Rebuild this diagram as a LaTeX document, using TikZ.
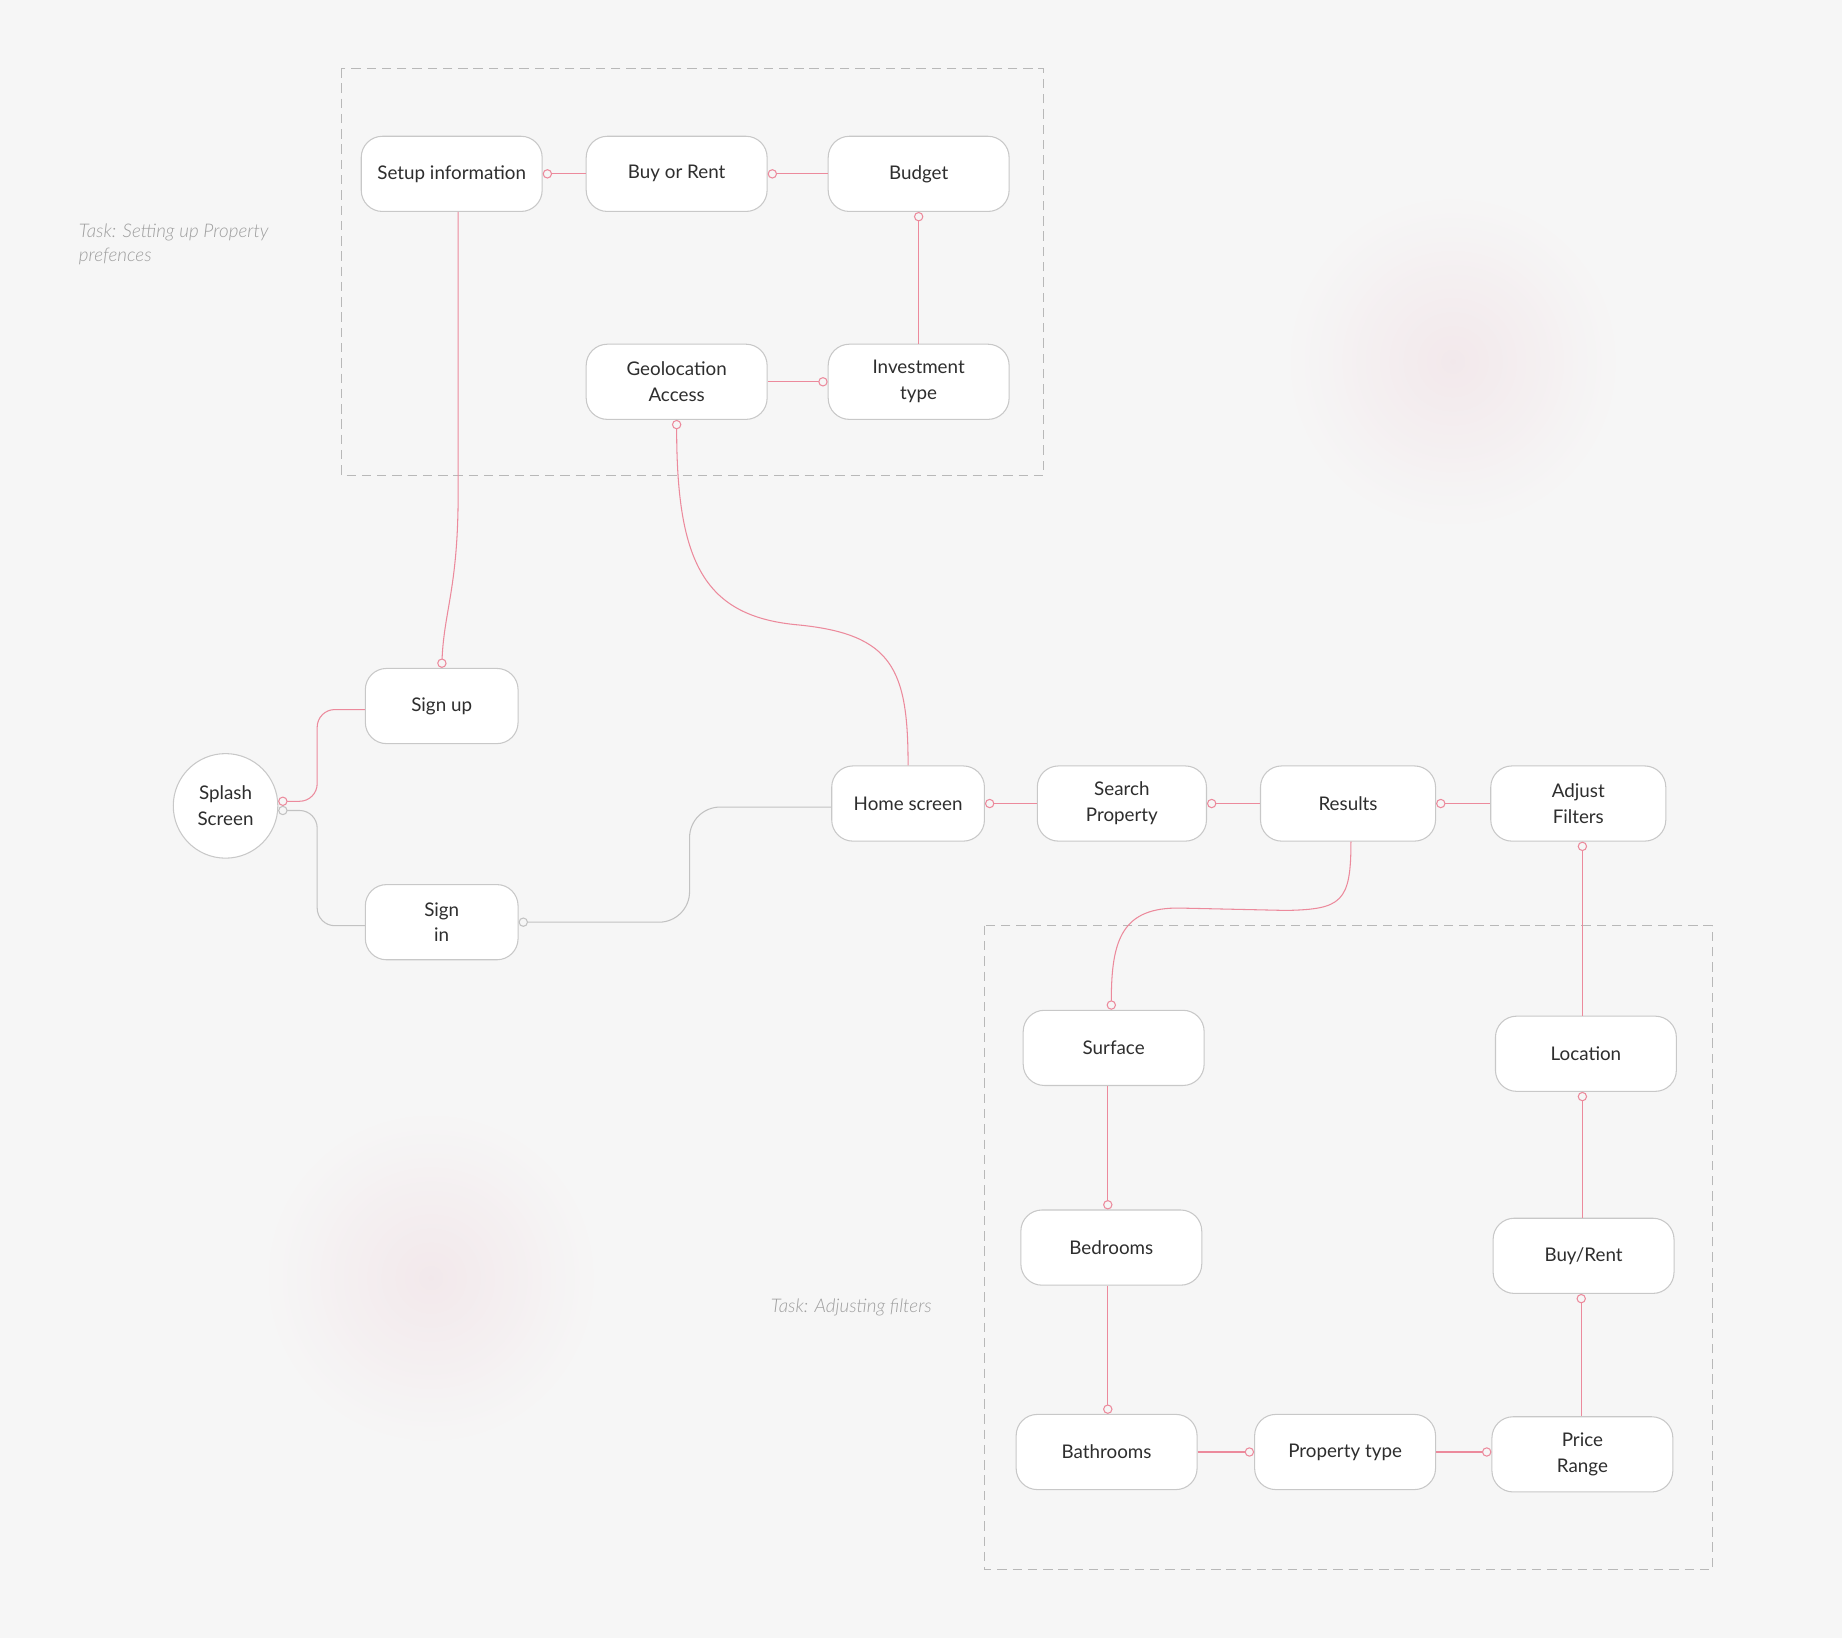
\documentclass[tikz,border=0pt]{standalone}
\usepackage{fontspec}
\setmainfont{Lato}
\IfFontExistsTF{Lato Light}{\newfontfamily\lightfont{Lato Light}}{\newfontfamily\lightfont{Lato}}
\usetikzlibrary{arrows.meta}
\definecolor{bg}{HTML}{F6F6F6}
\definecolor{pk}{HTML}{EC8A9C}
\definecolor{lgray}{HTML}{C2C2C2}
\definecolor{bordergray}{HTML}{C8C8C8}
\definecolor{dashgray}{HTML}{B8B8B8}
\definecolor{txt}{HTML}{2E2E2E}
\definecolor{taskgray}{HTML}{9E9E9E}
\definecolor{blobpink}{HTML}{F2E8EB}
\begin{document}
\begin{tikzpicture}[x=1pt,y=-1pt,
  box/.style={draw=bordergray, line width=0.9pt, fill=white, rounded corners=18pt,
    minimum height=64pt, minimum width=154pt, align=center, text=txt,
    font=\fontsize{16pt}{22pt}\selectfont, inner sep=0pt},
  roundnode/.style={draw=bordergray, line width=0.9pt, fill=white, circle,
    minimum size=89pt, align=center, text=txt,
    font=\fontsize{16pt}{22pt}\selectfont, inner sep=0pt},
  pkline/.style={draw=pk, line width=0.9pt},
  grline/.style={draw=lgray, line width=0.9pt},
  dot/.tip={Circle[open, length=8pt, width=8pt, fill=bg, line width=0.9pt]},
  dashbox/.style={draw=dashgray, line width=0.8pt, dash pattern=on 8pt off 5pt},
  tasklabel/.style={text=taskgray, font=\fontsize{16pt}{21pt}\selectfont\lightfont\itshape,
    align=left, inner sep=0pt, anchor=north west}
]
% background
\fill[bg] (0,0) rectangle (1568,1394);
\useasboundingbox (0,0) rectangle (1568,1394);
% soft blobs
\coordinate (blobA) at (1237,308);
\coordinate (blobB) at (367,1088);
\foreach \r in {150,146,...,2} {
  \pgfmathtruncatemacro{\p}{100*(1-\r/150)^1.1}
  \fill[blobpink!\p!bg] (blobA) circle (\r pt);
  \fill[blobpink!\p!bg] (blobB) circle (\r pt);
}

% dashed task boxes
\draw[dashbox] (291,58) rectangle (888,405);
\draw[dashbox] (838,788) rectangle (1458,1336);

% task labels
\node[tasklabel] (task1) at (67,190) {Task: Setting up Property\\prefences};
\node[tasklabel] (task2) at (656,1105) {Task: Adjusting filters};

% top group
\node[box] (setup) at (384.5,148) {Setup information};
\node[box] (buyorrent) at (576,148) {Buy or Rent};
\node[box] (budget) at (782,148) {Budget};
\node[box] (geo) at (576,325) {Geolocation\\Access};
\node[box] (invest) at (782,325) {Investment\\type};

% left group
\node[roundnode] (splash) at (192,686) {Splash\\Screen};
\node[box, minimum width=130pt] (signup) at (376,601) {Sign up};
\node[box, minimum width=130pt] (signin) at (376,785) {Sign\\in};

% middle row
\node[box, minimum width=130pt] (home) at (773,684) {Home screen};
\node[box, minimum width=144pt] (search) at (955,684) {Search\\Property};
\node[box, minimum width=149pt] (results) at (1147.5,684) {Results};
\node[box, minimum width=149pt] (adjust) at (1343.5,684) {Adjust\\Filters};

% filter group
\node[box] (surface) at (948,892) {Surface};
\node[box] (location) at (1350,897) {Location};
\node[box] (bedrooms) at (946,1062) {Bedrooms};
\node[box] (buyrent) at (1348,1069) {Buy/Rent};
\node[box] (bathrooms) at (942,1236) {Bathrooms};
\node[box] (ptype) at (1145,1236) {Property type};
\node[box] (price) at (1347,1238) {Price\\Range};

% connectors top group
\draw[pkline, {dot}-] (setup.east) -- (buyorrent.west);
\draw[pkline, {dot}-] (buyorrent.east) -- (budget.west);
\draw[pkline, {dot}-] (budget.south) -- (invest.north);
\draw[pkline, {dot}-] (invest.west) -- (geo.east);
\draw[pkline, {dot}-] (geo.south) .. controls (576,480) and (600,525) .. (680,532)
   .. controls (760,540) and (773,570) .. (home.north);
\draw[pkline, -{dot}] ([xshift=5.5pt]setup.south) -- (390,420)
   .. controls (390,500) and (378,520) .. (signup.north);

% splash connectors
\draw[pkline, rounded corners=15pt, {dot}-] (splash.5) -| (270,604) -- ([yshift=-3pt]signup.west);
\draw[grline, rounded corners=15pt, {dot}-] (splash.-5) -| (270,788) -- ([yshift=-3pt]signin.west);
\draw[grline, rounded corners=26pt, {dot}-] (signin.east) -| (587,687) -- ([yshift=-3pt]home.west);

% middle row
\draw[pkline, {dot}-] (home.east) -- (search.west);
\draw[pkline, {dot}-] (search.east) -- (results.west);
\draw[pkline, {dot}-] (results.east) -- (adjust.west);
\draw[pkline, -{dot}] ([xshift=2.5pt]results.south) .. controls (1150,768) and (1142,774) .. (1095,775)
   -- (1005,773) .. controls (955,772) and (946,800) .. ([xshift=-2pt]surface.north);

% filter group
\draw[pkline, {dot}-] ([xshift=3.5pt]adjust.south) -- ([xshift=3.5pt]adjust.south |- location.north);
\draw[pkline, {dot}-] ([xshift=-3pt]location.south) -- ([xshift=-3pt]location.south |- buyrent.north);
\draw[pkline, {dot}-] ([xshift=-2pt]buyrent.south) -- ([xshift=-2pt]buyrent.south |- price.north);
\draw[pkline, -{dot}] ([xshift=-5pt]surface.south) -- ([xshift=-3pt]bedrooms.north);
\draw[pkline, -{dot}] ([xshift=-3pt]bedrooms.south) -- ([xshift=1pt]bathrooms.north);
\draw[pkline, -{dot}] (bathrooms.east) -- (ptype.west);
\draw[pkline, -{dot}] (ptype.east) -- (ptype.east -| price.west);
\end{tikzpicture}
\end{document}
